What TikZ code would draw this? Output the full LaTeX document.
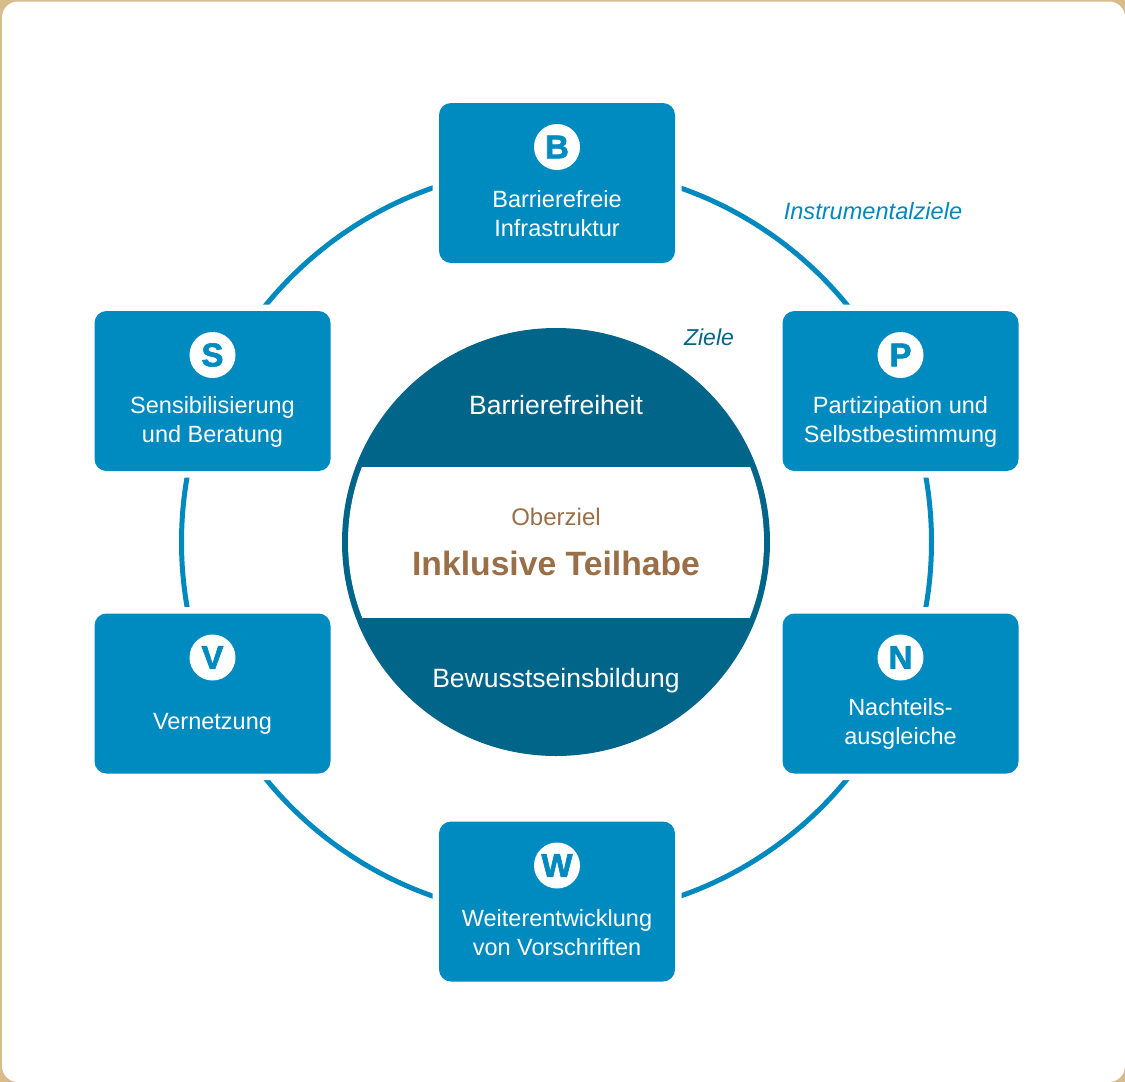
\documentclass[tikz,border=0pt]{standalone}
\usepackage{fontspec}
\setmainfont{Liberation Sans}
\newfontfamily\heavyfont[FakeBold=2]{Liberation Sans Bold}
\usetikzlibrary{positioning}
\definecolor{ringblue}{RGB}{0,137,191}
\definecolor{boxblue}{RGB}{0,139,192}
\definecolor{darkblue}{RGB}{0,101,137}
\definecolor{goalbrown}{RGB}{154,111,71}
\definecolor{framegold}{RGB}{216,188,140}
\begin{document}
\begin{tikzpicture}[x=1pt, y=-1pt,
  instbox/.style = {shape=rectangle, rounded corners=12pt, fill=boxblue,
    minimum width=236pt, minimum height=160pt,
    preaction={draw=white, line width=13pt}},
  badge/.style = {circle, fill=white, minimum size=46pt, inner sep=0pt,
    text=boxblue, font=\fontsize{33}{33}\heavyfont},
  boxtext/.style = {align=center, inner sep=0pt, text=white,
    font=\fontsize{23.5}{29}\selectfont},
  goaltext/.style = {anchor=base, inner sep=0pt, text=white,
    font=\fontsize{26.5}{30}\selectfont}]
  \useasboundingbox (0,0) rectangle (1125,1082);
  % frame
  \fill[framegold] (0,0) rectangle (1125,1082);
  \fill[white, rounded corners=16pt] (2,1.5) rectangle (1125,1082);
  % ring of instrumental goals
  \draw[ringblue, line width=5pt] (556.5,542) circle (375pt);
  \foreach \n/\x/\y/\l/\t in {
      B/557/183/B/{Barrierefreie\\Infrastruktur},
      S/212.5/391/S/{Sensibilisierung\\und Beratung},
      P/900.5/391/P/{Partizipation und\\Selbstbestimmung},
      V/212.5/693.5/V/{Vernetzung},
      N/900.5/693.5/N/{Nachteils-\\ausgleiche},
      W/557/901.5/W/{Weiterentwicklung\\von Vorschriften}} {
    \node[instbox] (\n) at (\x,\y) {};
    \node[badge, below=21pt of \n.north] (\n-badge) {\l};
    \node[boxtext] (\n-text) at ([yshift=-111pt]\n.north) {\t};
  }
  % goals
  \node[circle, fill=darkblue, minimum size=428pt, inner sep=0pt] (core) at (556,542) {};
  \begin{scope}
    \clip (core.center) circle (208pt);
    \fill[white] ([xshift=-220pt, yshift=75pt]core.center)
      rectangle ([xshift=220pt, yshift=-76pt]core.center);
  \end{scope}
  \node[goaltext] (barrier) at (556,414.5) {Barrierefreiheit};
  \node[goaltext] (aware) at (556,687) {Bewusstseinsbildung};
  \node[anchor=base, inner sep=0pt, text=goalbrown,
    font=\fontsize{24}{28}\selectfont] (oberziel) at (556,525.6) {Oberziel};
  \node[anchor=base, inner sep=0pt, text=goalbrown,
    font=\fontsize{33.7}{38}\selectfont\bfseries] (teilhabe) at (556,575) {Inklusive Teilhabe};
  \node[anchor=base, inner sep=0pt, text=darkblue,
    font=\fontsize{23}{27}\selectfont\itshape] (ziele) at (709,345) {Ziele};
  \node[anchor=base, inner sep=0pt, text=ringblue,
    font=\fontsize{23.6}{27}\selectfont\itshape] (instr) at (873,219) {Instrumentalziele};
\end{tikzpicture}
\end{document}
